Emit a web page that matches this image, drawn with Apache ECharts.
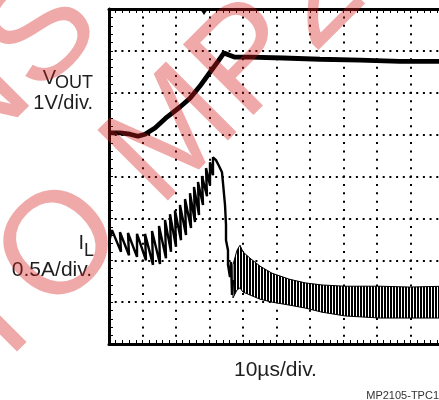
<!DOCTYPE html>
<html>
<head>
<meta charset="utf-8">
<script src="https://cdn.jsdelivr.net/npm/echarts/dist/echarts.min.js"></script>
<style>
html,body{margin:0;padding:0;background:#fff;}
#c{width:439px;height:400px;}
</style>
</head>
<body>
<div id="c"></div>
<script>
// Time axis: 10 µs/div, 10 divisions; vertical axis in screen divisions (8 divisions)
const xRange = [0, 100];
const yRange = [0, 8];

// VOUT trace (1V/div): time (µs), level (div)
const voutTime = [0, 3.28, 6.27, 8.66, 10.75, 13.73, 17.31, 21.19, 24.18, 27.16, 30.15, 32.54, 34.33, 35.82, 37.61, 42.09, 51.94, 62.99, 74.93, 86.87, 100];
const voutDiv  = [5.04, 5.04, 5.01, 4.96, 5.01, 5.16, 5.42, 5.66, 5.87, 6.16, 6.49, 6.75, 6.95, 6.90, 6.85, 6.85, 6.83, 6.80, 6.78, 6.75, 6.75];

// IL trace (0.5A/div), soft-start ripple teeth and the fall
const ilTime = [0, 0.90, 3.58, 3.28, 5.97, 5.67, 8.36, 8.36, 11.04, 10.75, 13.13, 12.84, 15.22, 14.93, 17.01, 16.72, 18.51, 18.21, 20.00, 19.70, 21.49, 21.19, 22.99, 22.69, 24.48, 24.18, 25.67, 25.37, 26.87, 26.57, 28.06, 27.76, 29.25, 28.96, 30.15, 30.15, 31.04, 31.04, 31.94, 32.84, 33.73, 34.03, 34.63, 34.93, 34.93, 35.52, 35.52, 36.12, 36.42, 36.72, 37.01];
const ilDiv  = [2.43, 2.72, 2.20, 2.67, 2.12, 2.65, 2.08, 2.63, 2.00, 2.63, 1.89, 2.70, 1.91, 2.82, 2.05, 2.96, 2.20, 3.10, 2.32, 3.19, 2.48, 3.32, 2.60, 3.46, 2.77, 3.60, 2.91, 3.75, 3.08, 3.87, 3.32, 4.01, 3.53, 4.20, 3.79, 4.34, 4.03, 4.46, 4.39, 4.25, 4.10, 3.84, 3.32, 2.84, 2.48, 2.24, 1.89, 1.60, 1.96, 1.17, 1.53];

// IL steady switching band: envelope (top / bottom)
const bandTime   = [37.01, 38.21, 39.10, 40.00, 42.09, 45.07, 48.66, 53.73, 58.51, 63.58, 70.45, 80.90, 89.85, 100];
const bandTop    = [1.89, 2.24, 2.36, 2.20, 2.05, 1.86, 1.69, 1.55, 1.46, 1.41, 1.38, 1.38, 1.36, 1.38];
const bandBottom = [1.10, 1.29, 1.34, 1.24, 1.17, 1.07, 1.00, 0.93, 0.86, 0.76, 0.67, 0.62, 0.62, 0.62];

// trigger marker on the top edge
const triggerTime = [28.36];

const FONT = "'Liberation Sans', Arial, Helvetica, sans-serif";
const WM = 'rgba(215,30,30,0.38)';

function pair(xs, ys){ return xs.map((x,i)=>[x, ys[i]]); }

// vertical-line texture for the dense switching band
const pc = document.createElement('canvas');
pc.width = 3; pc.height = 4;
const pctx = pc.getContext('2d');
pctx.fillStyle = '#fff'; pctx.fillRect(0,0,3,4);
pctx.fillStyle = '#000'; pctx.fillRect(0,0,2,4);

const chart = echarts.init(document.getElementById('c'), null, {renderer:'canvas'});

const axisCommon = {
  type:'value', min:xRange[0], max:xRange[1], interval:10,
  axisLine:{show:true, onZero:false, lineStyle:{color:'#000', width:3}},
  axisTick:{show:true, inside:true, length:4, lineStyle:{color:'#000', width:1}},
  minorTick:{show:true, splitNumber:5, length:4, lineStyle:{color:'#000', width:1}},
  axisLabel:{show:false}
};

function txt(text, x, y, size, align, color){
  return {type:'text', z:50, style:{text:text, x:x, y:y, font: size+'px '+FONT, fill: color||'#1e1e1e',
    textAlign:align, align:align, textVerticalAlign:'middle', verticalAlign:'middle'}};
}

const option = {
  animation:false,
  backgroundColor:'#fff',
  grid:{left:109, top:9, right:-5, bottom:56, containLabel:false, outerBoundsMode:'none'},
  xAxis:[
    Object.assign({}, axisCommon, {position:'bottom',
      splitLine:{show:true, lineStyle:{color:'#000', width:2, type:[2,6.38], dashOffset:1}}}),
    Object.assign({}, axisCommon, {position:'top', splitLine:{show:false}})
  ],
  yAxis:[{
    type:'value', min:yRange[0], max:yRange[1], interval:1, position:'left',
    axisLine:{show:true, onZero:false, lineStyle:{color:'#000', width:3}},
    axisTick:{show:true, inside:true, length:4, lineStyle:{color:'#000', width:1}},
    minorTick:{show:true, splitNumber:5, length:4, lineStyle:{color:'#000', width:1}},
    splitLine:{show:true, lineStyle:{color:'#000', width:2, type:[2,4.7], dashOffset:1}},
    axisLabel:{show:false}
  }],
  series:[
    {type:'custom', name:'IL band', data:[[bandTime[0], bandTop[0]]], z:3, clip:false,
      renderItem:function(params, api){
        const pts = [];
        for (let i=0;i<bandTime.length;i++) pts.push(api.coord([bandTime[i], bandTop[i]]));
        for (let i=bandTime.length-1;i>=0;i--) pts.push(api.coord([bandTime[i], bandBottom[i]]));
        return {type:'polygon', shape:{points:pts}, style:{fill:{image:pc, repeat:'repeat'}, stroke:'#000', lineWidth:1}};
      }
    },
    {type:'line', name:'IL', data:pair(ilTime, ilDiv), showSymbol:false, symbol:'none', z:4,
      lineStyle:{color:'#000', width:2.4}},
    {type:'line', name:'VOUT', data:pair(voutTime, voutDiv), showSymbol:false, symbol:'none', z:5,
      lineStyle:{color:'#000', width:4.8}},
    {type:'custom', name:'trigger', data:triggerTime.map(t=>[t, yRange[1]]), z:6, clip:false,
      renderItem:function(params, api){
        const p = api.coord([api.value(0), api.value(1)]);
        return {type:'polygon', shape:{points:[[p[0]-4, p[1]], [p[0]+4, p[1]], [p[0], p[1]+6]]}, style:{fill:'#000'}};
      }
    }
  ],
  graphic:[
    txt('V', 56, 78, 20, 'right'),
    txt('OUT', 55, 83.5, 18, 'left'),
    txt('1V/div.', 93, 103, 20, 'right'),
    txt('I', 84, 243.5, 20, 'right'),
    txt('L', 84, 251, 18, 'left'),
    txt('0.5A/div.', 92, 270, 21, 'right'),
    txt('10\u00b5s/div.', 234, 370, 21, 'left'),
    txt('MP2105-TPC1', 439, 395.5, 11, 'right', '#333'),
    {type:'group', x:60, y:242, rotation:Math.PI/4, z:100, silent:true, children:[
      {type:'text', z:100, style:{text:'REFER TO MP2', x:-677, y:7, font:'145px '+FONT, fill:WM,
        textAlign:'left', align:'left', textVerticalAlign:'middle', verticalAlign:'middle'}},
      {type:'text', z:100, style:{text:'NOT RECOMMENDED FOR NEW DESIGNS', x:183, y:-158, font:'145px '+FONT, fill:WM,
        textAlign:'right', align:'right', textVerticalAlign:'middle', verticalAlign:'middle'}}
    ]}
  ]
};
chart.setOption(option);
</script>
</body>
</html>
